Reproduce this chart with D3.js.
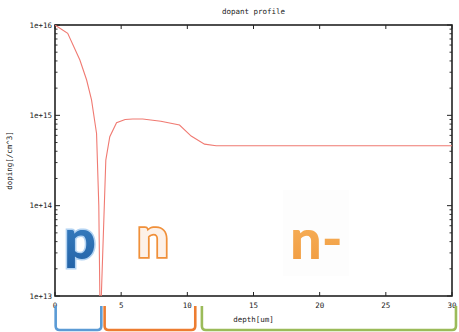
<!DOCTYPE html>
<html>
<head>
<meta charset="utf-8">
<script src="https://cdn.jsdelivr.net/npm/d3@7"></script>
<style>
  html, body { margin: 0; padding: 0; background: #fff; }
  svg { display: block; }
  .mono { font-family: "DejaVu Sans Mono", monospace; fill: #222; }
</style>
</head>
<body>
<div id="chart"></div>
<script>
// dopant profile — doping vs depth (log y)
const depth  = [0, 0.96, 1.88, 2.39, 2.76, 3.14, 3.31, 3.39, 3.43, 3.5, 3.84, 4.14, 4.65, 5.3, 5.87, 6.63, 8.0, 9.41, 10.29, 11.3, 12.18, 13.0, 20, 30];
const doping = [1e16, 8.1e15, 4.1e15, 2.46e15, 1.48e15, 6.3e14, 1e14, 1e13, 1e12, 1e13, 3.2e14, 5.8e14, 8.3e14, 9.0e14, 9.1e14, 9.1e14, 8.6e14, 7.8e14, 5.9e14, 4.8e14, 4.6e14, 4.6e14, 4.6e14, 4.6e14];
const xTicks = [0, 5, 10, 15, 20, 25, 30];
const yTicks = [1e13, 1e14, 1e15, 1e16];
const yTickLabels = ['1e+13', '1e+14', '1e+15', '1e+16'];
// regions marked under the axis: [from, to] in um
const regions = [
  { name: 'p',  from: 0.05, to: 3.5,  col: '#5b9bd5' },
  { name: 'n',  from: 3.75, to: 10.6, col: '#ed7d31' },
  { name: 'n-', from: 11.1, to: 30.3, col: '#9bbb59' },
];

const W = 459, H = 332;
const m = { top: 25, right: 7, bottom: 36, left: 55 };
const iw = W - m.left - m.right, ih = H - m.top - m.bottom;

const svg = d3.select('#chart').append('svg').attr('width', W).attr('height', H);
const g = svg.append('g').attr('transform', `translate(${m.left},${m.top})`);

const x = d3.scaleLinear([0, 30], [0, iw]);
const y = d3.scaleLog([1e13, 1e16], [ih, 0]);

svg.append('text').attr('class', 'mono').attr('x', m.left + iw / 2).attr('y', 14)
  .attr('text-anchor', 'middle').style('font-size', '7.5px').text('dopant profile');

// minor log ticks (left + right, inward)
const minor = [];
[13, 14, 15].forEach(e => { for (let k = 2; k <= 9; k++) minor.push(k * Math.pow(10, e)); });
g.append('g').selectAll('line.ml').data(minor).join('line')
  .attr('x1', 0).attr('x2', 2.5).attr('y1', d => y(d)).attr('y2', d => y(d))
  .attr('stroke', '#333').attr('stroke-width', 1);
g.append('g').selectAll('line.mr').data(minor).join('line')
  .attr('x1', iw).attr('x2', iw - 2.5).attr('y1', d => y(d)).attr('y2', d => y(d))
  .attr('stroke', '#333').attr('stroke-width', 1);
// major y ticks
g.append('g').selectAll('line').data(yTicks).join('line')
  .attr('x1', 0).attr('x2', 5).attr('y1', d => y(d)).attr('y2', d => y(d)).attr('stroke', '#222');
g.append('g').selectAll('line').data(yTicks).join('line')
  .attr('x1', iw).attr('x2', iw - 5).attr('y1', d => y(d)).attr('y2', d => y(d)).attr('stroke', '#222');
g.append('g').selectAll('text').data(yTicks).join('text').attr('class', 'mono')
  .attr('x', -3).attr('y', d => y(d)).attr('dy', '0.35em').attr('text-anchor', 'end')
  .style('font-size', '7.5px').text((d, i) => yTickLabels[i]);
// x ticks (bottom + top, inward)
g.append('g').selectAll('line').data(xTicks).join('line')
  .attr('x1', d => x(d)).attr('x2', d => x(d)).attr('y1', ih).attr('y2', ih - 4).attr('stroke', '#222');
g.append('g').selectAll('line').data(xTicks).join('line')
  .attr('x1', d => x(d)).attr('x2', d => x(d)).attr('y1', 0).attr('y2', 4).attr('stroke', '#222');
g.append('g').selectAll('text').data(xTicks).join('text').attr('class', 'mono')
  .attr('x', d => x(d)).attr('y', ih + 12).attr('text-anchor', 'middle')
  .style('font-size', '7.5px').text(d => d);

svg.append('text').attr('class', 'mono').attr('x', m.left + iw / 2).attr('y', 322)
  .attr('text-anchor', 'middle').style('font-size', '7.5px').text('depth[um]');
svg.append('text').attr('class', 'mono')
  .attr('transform', `translate(12,${m.top + ih / 2}) rotate(-90)`)
  .attr('text-anchor', 'middle').style('font-size', '7.5px').text('doping[/cm^3]');

// frame
g.append('rect').attr('width', iw).attr('height', ih).attr('fill', 'none')
  .attr('stroke', '#222').attr('stroke-width', 1.6);

// profile curve
g.append('clipPath').attr('id', 'clip').append('rect').attr('width', iw).attr('height', ih);
const pts = depth.map((d, i) => [d, doping[i]]);
g.append('path').datum(pts).attr('clip-path', 'url(#clip)')
  .attr('fill', 'none').attr('stroke', '#f07a72').attr('stroke-width', 1.1)
  .attr('d', d3.line().x(p => x(p[0])).y(p => y(p[1])));

// region letters
const defs = svg.append('defs');
const gp = defs.append('linearGradient').attr('id', 'gp').attr('x1', 0).attr('x2', 0).attr('y1', 0).attr('y2', 1);
gp.append('stop').attr('offset', '0').attr('stop-color', '#3f86c8');
gp.append('stop').attr('offset', '1').attr('stop-color', '#2262a6');
const gn = defs.append('linearGradient').attr('id', 'gn').attr('x1', 0).attr('x2', 0).attr('y1', 0).attr('y2', 1);
gn.append('stop').attr('offset', '0').attr('stop-color', '#f8b560');
gn.append('stop').attr('offset', '1').attr('stop-color', '#f09a3e');

svg.append('rect').attr('x', 283).attr('y', 190).attr('width', 66).attr('height', 86)
  .attr('fill', '#fdfdfd');

const letterFont = 'Lato, "Open Sans", sans-serif';
svg.append('text').attr('x', 64).attr('y', 259).text('p')
  .style('font-family', letterFont).style('font-weight', 900).style('font-size', '56px')
  .attr('fill', 'url(#gp)').attr('stroke', '#b3d3f2').attr('stroke-width', 3)
  .attr('paint-order', 'stroke');
svg.append('text').attr('x', 137).attr('y', 257).text('n')
  .style('font-family', letterFont).style('font-weight', 900).style('font-size', '56px')
  .attr('fill', '#fdf1e8').attr('stroke', '#f0903a').attr('stroke-width', 3.5)
  .attr('paint-order', 'stroke');
svg.append('text').attr('x', 290).attr('y', 259).text('n-')
  .style('font-family', letterFont).style('font-weight', 900).style('font-size', '56px')
  .attr('fill', 'url(#gn)');

// brackets under the axis
const by0 = 306, by1 = 330, r = 4;
svg.append('g').selectAll('path').data(regions).join('path')
  .attr('fill', 'none').attr('stroke', d => d.col).attr('stroke-width', 2.6)
  .attr('d', d => {
    const a = m.left + x(d.from), b = m.left + x(d.to);
    return `M${a},${by0} L${a},${by1 - r} Q${a},${by1} ${a + r},${by1} L${b - r},${by1} Q${b},${by1} ${b},${by1 - r} L${b},${by0}`;
  });
</script>
</body>
</html>
